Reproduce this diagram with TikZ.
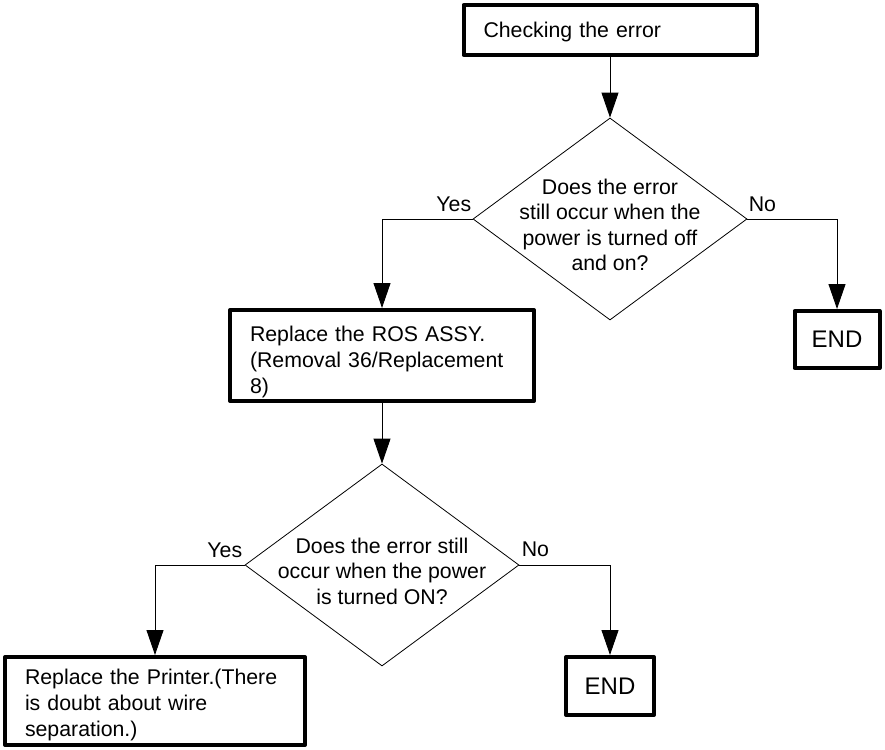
\documentclass[tikz,border=0pt]{standalone}
\usepackage{fontspec}
\setmainfont{Liberation Sans}
\usetikzlibrary{shapes.geometric,arrows.meta}
\begin{document}
\begin{tikzpicture}[x=1pt,y=-1pt,
  font=\fontsize{21.3}{26}\selectfont,
  box/.style={draw, line width=4pt, line join=round, rectangle, inner xsep=20pt, inner ysep=0pt, align=left},
  endbox/.style={draw, line width=4pt, line join=round, rectangle, inner sep=0pt, align=center, font=\fontsize{24}{28}\selectfont},
  dec/.style={draw, diamond, line width=0.8pt, inner sep=0pt, minimum width=274pt, minimum height=202pt},
  dectext/.style={align=center, yshift=-6pt, inner sep=0pt, font=\fontsize{21.3}{25.5}\selectfont},
  conn/.style={line width=0.9pt, -{Triangle[length=25pt,width=17pt]}},
  lab/.style={inner sep=0pt}
]
\useasboundingbox (0,0) rectangle (885,749);

\node[box, minimum width=293pt, minimum height=50pt, text width=253pt, text height=20pt, text depth=4pt] (b1) at (610,30) {Checking the error};

\node[dec, label={[dectext]center:{Does the error\\still occur when the\\power is turned off\\and on?}}] (d1) at (610,219) {};

\node[box, minimum width=304pt, minimum height=91pt, text width=264pt, text height=20pt, text depth=48pt] (b2) at (382,355.5) {Replace the ROS ASSY.\\(Removal 36/Replacement\\8)};

\node[endbox, minimum width=85pt, minimum height=57pt, text height=19pt, text depth=4pt] (e1) at (837,339.5) {END};

\node[dec, label={[dectext]center:{Does the error still\\occur when the power\\is turned ON?}}] (d2) at (382,565) {};

\node[box, minimum width=300pt, minimum height=88pt, text width=260pt, text height=20pt, text depth=54pt] (b3) at (155,701) {Replace the Printer.(There\\is doubt about wire\\separation.)};

\node[endbox, minimum width=88pt, minimum height=58pt, text height=20pt, text depth=4pt] (e2) at (610,686) {END};

\draw[conn] (b1.south) -- (d1.north);
\draw[conn] (d1.west) node[lab, anchor=base east, xshift=-1pt, yshift=7.5pt]{Yes} -| (b2.north);
\draw[conn] (d1.east) node[lab, anchor=base west, xshift=1pt, yshift=7.5pt]{No} -| (e1.north);
\draw[conn] (b2.south) -- (d2.north);
\draw[conn] (d2.west) node[lab, anchor=base east, xshift=-2pt, yshift=7.5pt]{Yes} -| (b3.north);
\draw[conn] (d2.east) node[lab, anchor=base west, xshift=2pt, yshift=8.5pt]{No} -| (e2.north);
\end{tikzpicture}
\end{document}
